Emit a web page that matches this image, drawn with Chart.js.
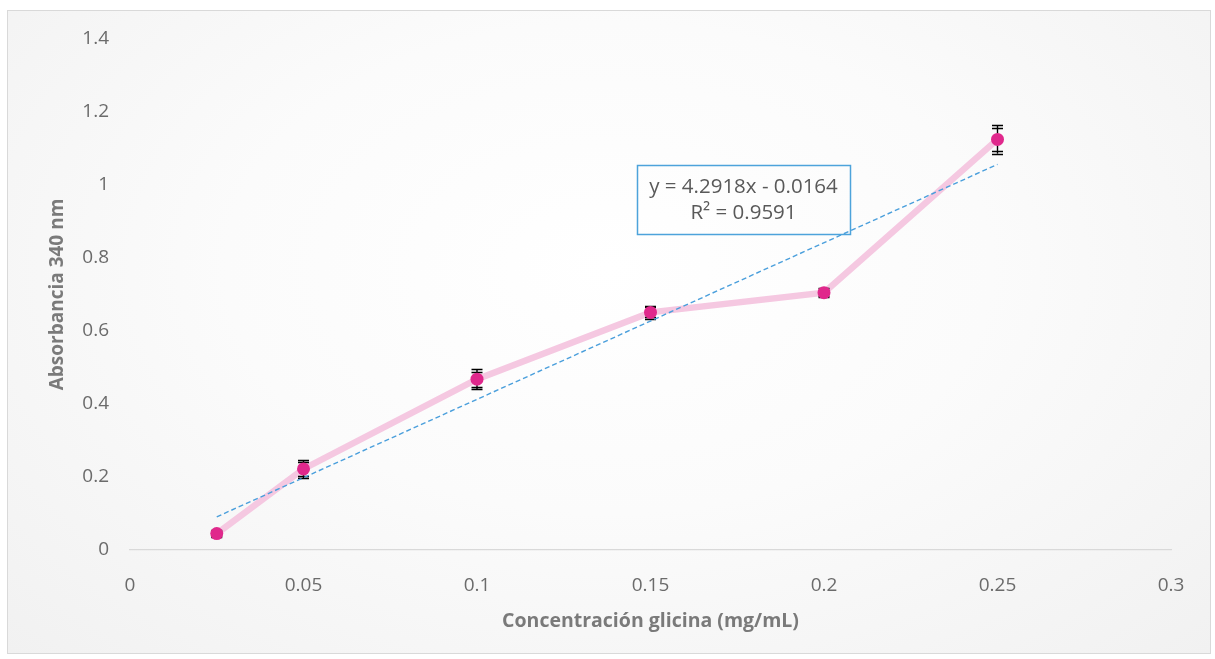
<!DOCTYPE html>
<html>
<head>
<meta charset="utf-8">
<script src="https://cdn.jsdelivr.net/npm/chart.js@4.4.1/dist/chart.umd.min.js"></script>
<style>
  html, body { margin: 0; padding: 0; background: #fff; }
  .frame {
    position: absolute; left: 7px; top: 10px; width: 1202px; height: 642px;
    border: 1px solid #d9d9d9;
    background: radial-gradient(ellipse at 50% 40%, #ffffff 0%, #fbfbfb 45%, #f1f1f1 100%);
  }
  #chart { position: absolute; left: 0; top: 0; }
</style>
</head>
<body>
<div class="frame"></div>
<canvas id="chart" width="1215" height="659"></canvas>
<script>
// glycine concentration (mg/mL) vs absorbance at 340 nm
const concentration = [0.025, 0.05, 0.1, 0.15, 0.2, 0.25];
const absorbance = [0.045, 0.222, 0.468, 0.651, 0.705, 1.125];
const errInner = [0.006, 0.018, 0.021, 0.014, 0.008, 0.032];
const errOuter = [0.010, 0.024, 0.028, 0.018, 0.012, 0.039];

// linear fit reported in the label
const fitSlope = 4.2918;
const fitIntercept = -0.0164;
const fitR2 = 0.9591;
const fitRange = [0.025, 0.25];

const xTickLabels = ['0', '0.05', '0.1', '0.15', '0.2', '0.25', '0.3'];
const yTickLabels = ['0', '0.2', '0.4', '0.6', '0.8', '1', '1.2', '1.4'];

const FONT = '"Open Sans", "Noto Sans", sans-serif';
const textGray = '#6b6b6b';

const points = concentration.map((x, i) => ({ x: x, y: absorbance[i] }));
const fitPoints = fitRange.map(x => ({ x: x, y: fitSlope * x + fitIntercept }));

// vertical error bars with doubled caps
const errorBars = {
  id: 'errorBars',
  afterDatasetDraw(chart, args) {
    if (args.index !== 2) return;
    const { ctx, scales: { x, y } } = chart;
    ctx.save();
    ctx.strokeStyle = '#000';
    ctx.lineWidth = 1.4;
    concentration.forEach((c, i) => {
      const px = x.getPixelForValue(c);
      const hi = y.getPixelForValue(absorbance[i] + errOuter[i]);
      const lo = y.getPixelForValue(absorbance[i] - errOuter[i]);
      ctx.beginPath();
      ctx.moveTo(px, hi);
      ctx.lineTo(px, lo);
      [errInner[i], errOuter[i], -errInner[i], -errOuter[i]].forEach(e => {
        const py = Math.round(y.getPixelForValue(absorbance[i] + e)) + 0.5;
        ctx.moveTo(px - 5.5, py);
        ctx.lineTo(px + 5.5, py);
      });
      ctx.stroke();
    });
    ctx.restore();
  }
};

// equation / R² box for the trendline
const fitLabel = {
  id: 'fitLabel',
  afterDraw(chart) {
    const { ctx, scales: { x, y } } = chart;
    const cx = x.getPixelForValue(0.1768);
    const cy = y.getPixelForValue(0.96);
    const w = 213, h = 69;
    ctx.save();
    ctx.strokeStyle = '#4da3db';
    ctx.lineWidth = 1.5;
    ctx.strokeRect(Math.round(cx - w / 2) + 0.5, Math.round(cy - h / 2) + 0.5, w, h);
    ctx.fillStyle = '#595959';
    ctx.font = '20.5px ' + FONT;
    ctx.textAlign = 'center';
    ctx.textBaseline = 'middle';
    ctx.fillText('y = ' + fitSlope + 'x - ' + Math.abs(fitIntercept), cx, cy - 12);
    ctx.fillText('R² = ' + fitR2, cx, cy + 14);
    ctx.restore();
  }
};

new Chart(document.getElementById('chart'), {
  type: 'scatter',
  data: {
    datasets: [
      {
        label: 'Absorbancia',
        data: points,
        showLine: false,
        pointRadius: 6.5,
        pointBackgroundColor: '#e0288c',
        pointBorderColor: '#e0288c',
        pointBorderWidth: 0
      },
      {
        label: 'Lineal',
        data: fitPoints,
        showLine: true,
        borderColor: '#4a9fdc',
        borderWidth: 1.4,
        borderDash: [5, 3],
        pointRadius: 0
      },
      {
        label: 'Serie',
        data: points,
        showLine: true,
        borderColor: '#f5c8e1',
        borderWidth: 6.5,
        pointRadius: 0,
        tension: 0
      }
    ]
  },
  options: {
    responsive: false,
    animation: false,
    layout: { padding: { left: 0, right: 44, top: 39, bottom: 0 } },
    plugins: {
      legend: { display: false },
      tooltip: { enabled: false }
    },
    scales: {
      x: {
        type: 'linear',
        min: 0,
        max: 0.3,
        afterBuildTicks(scale) {
          scale.ticks = xTickLabels.map(t => ({ value: parseFloat(t) }));
        },
        afterFit(scale) { scale.height = 109; },
        grid: { display: false, drawTicks: false },
        border: { display: true, color: '#d9d9d9', width: 1.3 },
        ticks: {
          padding: 24,
          color: textGray,
          font: { family: FONT, size: 19 },
          maxRotation: 0,
          callback: (v, i) => xTickLabels[i]
        },
        title: {
          display: true,
          text: 'Concentración glicina (mg/mL)',
          color: '#7a7a7a',
          font: { family: FONT, size: 19.5, weight: 'bold' },
          padding: { top: 0, bottom: 26 }
        }
      },
      y: {
        type: 'linear',
        min: 0,
        max: 1.4,
        afterBuildTicks(scale) {
          scale.ticks = yTickLabels.map(t => ({ value: parseFloat(t) }));
        },
        afterFit(scale) { scale.width = 130; },
        grid: { display: false, drawTicks: false },
        border: { display: false },
        ticks: {
          padding: 21,
          color: textGray,
          font: { family: FONT, size: 19 },
          callback: (v, i) => yTickLabels[i]
        },
        title: {
          display: true,
          text: 'Absorbancia 340 nm',
          color: '#7a7a7a',
          font: { family: FONT, size: 19, weight: 'bold' },
          padding: { top: 46, bottom: 46 }
        }
      }
    }
  },
  plugins: [errorBars, fitLabel]
});
</script>
</body>
</html>
